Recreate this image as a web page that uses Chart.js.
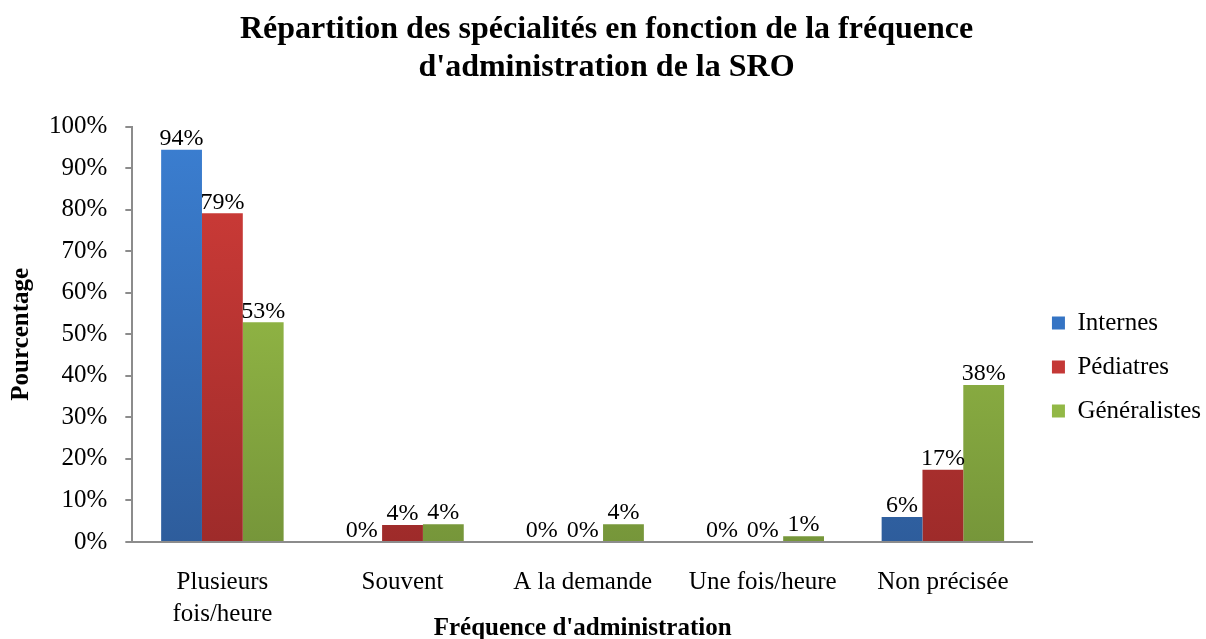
<!DOCTYPE html>
<html>
<head>
<meta charset="utf-8">
<script src="https://cdn.jsdelivr.net/npm/chart.js@4.4.1/dist/chart.umd.min.js"></script>
<style>
html,body{margin:0;padding:0;background:#fff;}
#wrap{width:1206px;height:639px;position:relative;}
</style>
</head>
<body>
<div id="wrap"><canvas id="c" width="1206" height="639"></canvas></div>
<script>
const categories = [["Plusieurs","fois/heure"], "Souvent", "A la demande", "Une fois/heure", "Non précisée"];
const internes = [94.4, 0, 0, 0, 6.0];
const pediatres = [79.1, 4.1, 0, 0, 17.4];
const generalistes = [52.9, 4.3, 4.3, 1.4, 37.8];
const yTicks = [0,10,20,30,40,50,60,70,80,90,100];

const FONT = "'Liberation Serif', 'Times New Roman', serif";

function grad(top, bottom){
  return function(ctx){
    const chart = ctx.chart;
    const a = chart.chartArea;
    if(!a) return top;
    const g = chart.ctx.createLinearGradient(0, a.top, 0, a.bottom);
    g.addColorStop(0, top);
    g.addColorStop(1, bottom);
    return g;
  };
}

const labelPlugin = {
  id: 'barLabels',
  afterDatasetsDraw(chart){
    const ctx = chart.ctx;
    ctx.save();
    ctx.font = "24px " + FONT;
    ctx.fillStyle = "#000";
    ctx.textAlign = "center";
    ctx.textBaseline = "bottom";
    chart.data.datasets.forEach((ds, di) => {
      const meta = chart.getDatasetMeta(di);
      meta.data.forEach((bar, i) => {
        const v = ds.data[i];
        ctx.fillText(Math.round(v) + "%", bar.x, bar.y + 1);
      });
    });
    ctx.restore();
  }
};

new Chart(document.getElementById('c'), {
  type: 'bar',
  data: {
    labels: categories,
    datasets: [
      {label: 'Internes', data: internes, backgroundColor: grad('#3b7fd2', '#2e5d9c')},
      {label: 'Pédiatres', data: pediatres, backgroundColor: grad('#d33d39', '#9e2b2a')},
      {label: 'Généralistes', data: generalistes, backgroundColor: grad('#a3ca4b', '#76963a')}
    ]
  },
  options: {
    responsive: false,
    animation: false,
    devicePixelRatio: 1,
    layout: {padding: {left: 2, right: -5, top: 0, bottom: 0}},
    datasets: {bar: {categoryPercentage: 0.68, barPercentage: 1.0}},
    plugins: {
      title: {
        display: true,
        text: ["Répartition des spécialités en fonction de la fréquence", "d'administration de la SRO"],
        color: '#000',
        font: {family: FONT, size: 32, weight: 'bold', lineHeight: 1.18},
        padding: {top: 11, bottom: 40}
      },
      legend: {
        position: 'right',
        title: {display: true, text: ' ', font: {size: 1, lineHeight: 1}, padding: {top: 0, bottom: 94}},
        labels: {
          color: '#000',
          font: {family: FONT, size: 25},
          boxWidth: 13, boxHeight: 13,
          padding: 19,
          generateLabels(chart){
            const cols = ['#3574c4','#c43836','#92b846'];
            return chart.data.datasets.map((d, i) => ({
              text: d.label, fillStyle: cols[i], strokeStyle: cols[i], lineWidth: 0,
              datasetIndex: i, fontColor: '#000'
            }));
          }
        }
      },
      tooltip: {enabled: false}
    },
    scales: {
      x: {
        grid: {display: false, drawTicks: false},
        border: {color: '#8c8c8c', width: 2},
        ticks: {color: '#000', font: {family: FONT, size: 25, lineHeight: 1.28}, padding: 24, maxRotation: 0, autoSkip: false},
        title: {display: true, text: "Fréquence d'administration", color: '#000', font: {family: FONT, size: 25, weight: 'bold'}, padding: {top: -40, bottom: -5}}
      },
      y: {
        min: 0, max: 100,
        afterBuildTicks(scale){ scale.ticks = yTicks.map(v => ({value: v})); },
        grid: {display: true, drawOnChartArea: false, drawTicks: true, tickLength: 7, color: '#8c8c8c', lineWidth: 2},
        border: {color: '#8c8c8c', width: 2},
        ticks: {color: '#000', font: {family: FONT, size: 25}, padding: 18, callback: v => v + '%'},
        title: {display: true, text: 'Pourcentage', color: '#000', font: {family: FONT, size: 25, weight: 'bold'}, padding: {top: 5, bottom: -6}}
      }
    }
  },
  plugins: [labelPlugin]
});
</script>
</body>
</html>
